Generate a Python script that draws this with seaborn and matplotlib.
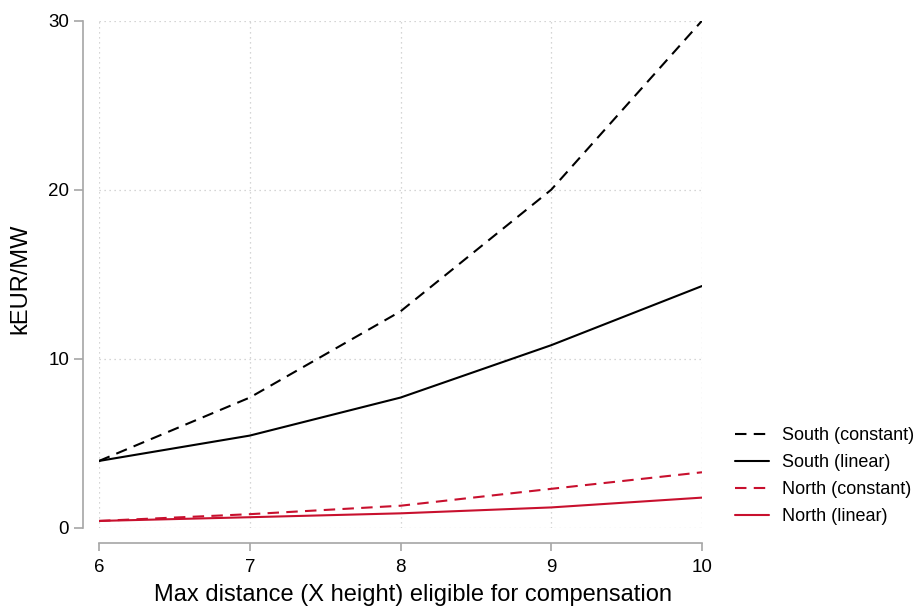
import matplotlib
matplotlib.use("Agg")
import matplotlib.pyplot as plt
import seaborn as sns
import pandas as pd

distance = [6, 7, 8, 9, 10]
south_constant = [3.95, 7.7, 12.8, 20.0, 30.0]
south_linear = [3.95, 5.45, 7.7, 10.8, 14.3]
north_constant = [0.4, 0.8, 1.3, 2.3, 3.28]
north_linear = [0.4, 0.62, 0.85, 1.2, 1.78]
labels = ["South (constant)", "South (linear)", "North (constant)", "North (linear)"]
x_ticks = [6, 7, 8, 9, 10]
y_ticks = [0, 10, 20, 30]

sns.set_theme(style="white")
plt.rcParams['font.family'] = ['Liberation Sans', 'DejaVu Sans']
plt.rcParams['text.color'] = 'black'
plt.rcParams['axes.labelcolor'] = 'black'
plt.rcParams['xtick.color'] = 'black'
plt.rcParams['ytick.color'] = 'black'

BLACK = "#000000"
RED = "#c8102e"
GRAY = "#a6a6a6"

fig = plt.figure(figsize=(9.14, 6.07), dpi=100)
ax = fig.add_axes([99/914, 1 - 527.7/607, (702-99)/914, (527.7-20.7)/607])

series = [south_constant, south_linear, north_constant, north_linear]
colors = [BLACK, BLACK, RED, RED]
styles = [(0, (5.5, 3.5)), "-", (0, (5.5, 3.5)), "-"]
for vals, lab, c, ls in zip(series, labels, colors, styles):
    df = pd.DataFrame({"distance": distance, "value": vals})
    sns.lineplot(data=df, x="distance", y="value", color=c, linestyle=ls,
                 linewidth=1.5, label=lab, ax=ax)

ax.set_xlim(6, 10)
ax.set_ylim(0, 30)
ax.set_xticks(x_ticks)
ax.set_yticks(y_ticks)
ax.grid(True, color="#c8c8c8", linestyle=(0, (1, 3)), linewidth=0.9)
ax.set_axisbelow(True)

for s in ["top", "right"]:
    ax.spines[s].set_visible(False)
ax.spines["left"].set_position(("outward", 11.5))
ax.spines["bottom"].set_position(("outward", 11))
for s in ["left", "bottom"]:
    ax.spines[s].set_color(GRAY)
    ax.spines[s].set_linewidth(1.2)
ax.tick_params(axis="y", which="major", length=6.5, width=1.2, color=GRAY,
               labelsize=13.5, labelcolor="black", pad=3.6, left=True)
ax.tick_params(axis="x", which="major", length=5.5, width=1.2, color=GRAY,
               labelsize=13.5, labelcolor="black", pad=6, bottom=True)

ax.set_xlabel("Max distance (X height) eligible for compensation", fontsize=17,
              va="center", color="black")
ax.xaxis.set_label_coords(413/914, 1 - 595/607, transform=fig.transFigure)
ax.set_ylabel("kEUR/MW", fontsize=17, va="center", color="black")
ax.yaxis.set_label_coords(20/914, 1 - 279/607, transform=fig.transFigure)

leg = ax.legend(loc="center left", bbox_to_anchor=(735/914, 1 - 476/607),
                bbox_transform=fig.transFigure, frameon=False, fontsize=13,
                handlelength=1.9, handletextpad=0.7, labelspacing=0.56,
                borderpad=0, borderaxespad=0)
for t in leg.get_texts():
    t.set_color("black")

fig.savefig("out.png", dpi=100, facecolor="white")
